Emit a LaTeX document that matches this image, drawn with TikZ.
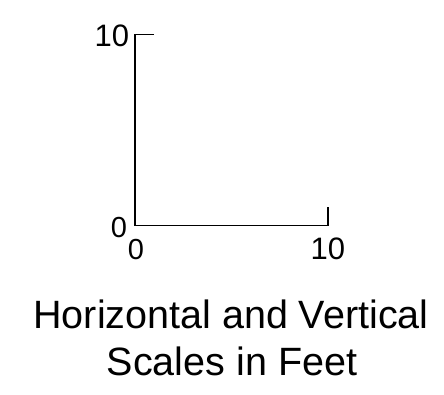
\documentclass[tikz,border=0pt]{standalone}
\usepackage{fontspec}
\setmainfont{Liberation Sans}
\begin{document}
\begin{tikzpicture}[x=1pt,y=-1pt,
  axisline/.style={line width=1.5pt, line join=miter},
  zerolbl/.style={inner sep=0pt, font=\fontsize{29}{34}\selectfont},
  tenlbl/.style={inner sep=0pt, font=\fontsize{31}{36}\selectfont},
  titlelbl/.style={inner sep=0pt, anchor=base, font=\fontsize{39.5}{47}\selectfont}]
\useasboundingbox (0,0) rectangle (444,395);
\coordinate (topend) at (154,34.5);
\coordinate (top) at (135,34.5);
\coordinate (origin) at (135,225.5);
\coordinate (right) at (328,225.5);
\coordinate (rightend) at (328,207);
\draw[axisline] (topend) -- (top) -- (origin) -- (right) -- (rightend);
\node[tenlbl, anchor=base east] (ytop) at (129.4,47) {10};
\node[zerolbl, anchor=base east] (yzero) at (127.3,237.3) {0};
\node[zerolbl, anchor=base] (xzero) at (135.9,259.3) {0};
\node[tenlbl, anchor=base] (xten) at (327.8,259.3) {10};
\node[titlelbl] (title1) at (231,328) {Horizontal and Vertical};
\node[titlelbl] (title2) at (232,375) {Scales in Feet};
\end{tikzpicture}
\end{document}
